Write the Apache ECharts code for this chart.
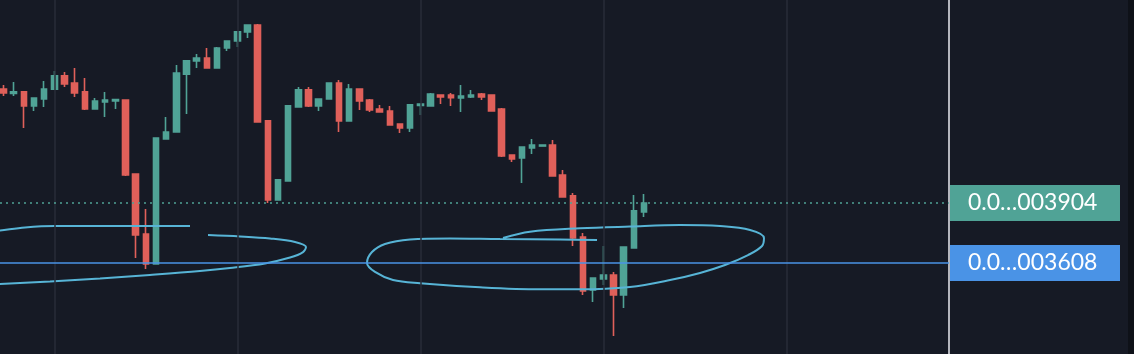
<!DOCTYPE html>
<html><head><meta charset="utf-8">
<script src="https://cdn.jsdelivr.net/npm/echarts@6/dist/echarts.min.js"></script>
<style>html,body{margin:0;padding:0;background:#161a25;}#c{width:1134px;height:354px;}</style>
</head><body><div id="c"></div>
<script>
// candles: [open, close, low, high] (price units: last digits of 0.0…00xxxx)
const candles = [
 [4466,4447,4432,4486],[4444,4452,4432,4501],[4452,4383,4274,4452],[4383,4422,4358,4422],
 [4417,4466,4378,4506],[4466,4531,4466,4555],[4531,4491,4476,4550],[4496,4447,4427,4570],
 [4452,4368,4363,4521],[4368,4407,4368,4422],[4402,4412,4328,4452],[4407,4414,4368,4417],
 [4412,4042,4037,4412],[4047,3746,3633,4047],[3751,3603,3578,3874],[3603,4225,3603,4225],
 [4220,4254,4220,4328],[4254,4545,4254,4585],[4540,4605,4343,4605],[4605,4619,4570,4639],
 [4619,4570,4570,4669],[4570,4669,4570,4674],[4669,4703,4654,4703],[4703,4748,4674,4748],
 [4748,4782,4718,4782],[4782,4304,4304,4787],[4309,3919,3904,4309],[3919,4018,3919,4018],
 [4013,4383,4013,4383],[4378,4462,4378,4476],[4462,4383,4378,4476],[4383,4417,4358,4417],
 [4417,4496,4417,4496],[4496,4309,4254,4511],[4309,4466,4309,4491],[4466,4407,4363,4466],
 [4412,4363,4353,4417],[4368,4353,4353,4388],[4358,4289,4289,4383],[4294,4274,4249,4294],
 [4274,4388,4254,4388],[4385,4392,4338,4392],[4383,4442,4383,4447],[4437,4427,4392,4437],
 [4437,4424,4383,4447],[4422,4432,4353,4486],[4427,4437,4422,4462],[4442,4427,4412,4447],
 [4437,4358,4358,4437],[4368,4136,4131,4373],[4141,4121,4106,4141],[4126,4180,4003,4180],
 [4175,4190,4146,4220],[4185,4190,4185,4190],[4190,4037,4037,4215],[4042,3934,3934,4067],
 [3939,3731,3692,3953],[3736,3470,3450,3756],[3475,3534,3416,3534],[3529,3549,3500,3692],
 [3549,3450,3248,3564],[3450,3687,3386,3687],[3682,3865,3682,3943],[3860,3904,3835,3948]
];
const lastPrice = 3904;
const linePrice = 3608;
const gridLineIdx = [5, 23, 41, 59, 77];
// hand-drawn ellipses: [candle index, price]
const ellipseA = [
 [20.11,3746],[23.26,3739],[26.21,3729],[28.67,3712],[29.75,3687],[29.46,3662],[28.18,3635],
 [25.72,3606],[22.27,3583],[19.32,3568],[14.40,3549],[9.49,3532],[4.57,3517],[-0.35,3504],
 [-4.28,3495],[-6.25,3574],[-4.28,3746],[-0.35,3768],[2.11,3783],[5.06,3790],[11.45,3790],[18.34,3790]
];
const ellipseB = [
 [49.13,3731],[51.78,3762],[56.70,3779],[61.62,3788],[66.54,3795],[70.47,3790],[73.43,3771],
 [74.80,3731],[74.61,3692],[73.23,3647],[70.97,3598],[68.51,3559],[65.56,3524],[61.62,3490],
 [56.70,3478],[52.77,3478],[46.87,3488],[40.96,3508],[38.31,3524],[36.54,3564],[35.75,3608],
 [36.24,3662],[37.52,3702],[39.98,3724],[43.92,3729],[48.84,3726],[54.74,3724],[58.38,3721]
];

const UP = '#50a396', DOWN = '#e0605a', BLUE = '#4a93e6', ELL = '#57b4d6';
const fmt = v => '0.0\u2026' + String(Math.round(v)).padStart(6, '0');
const chart = echarts.init(document.getElementById('c'), null, {renderer: 'canvas'});
const labelBase = {show: true, position: 'end', distance: 1, color: '#ffffff', fontSize: 23,
  fontFamily: 'Lato', width: 135, height: 36, lineHeight: 36, padding: [0, 17, 0, 18], align: 'left',
  formatter: p => fmt(p.value)};
chart.setOption({
  backgroundColor: '#161a25',
  animation: false,
  grid: {left: 0, top: 0, bottom: 0, right: 185},
  xAxis: {type: 'value', min: -0.35, max: 93, show: false, splitLine: {show: false}},
  yAxis: {type: 'value', min: 3159, max: 4905.5, position: 'right',
    axisLine: {show: true, onZero: false, lineStyle: {color: '#b4b6bd', width: 2}},
    axisTick: {show: false}, axisLabel: {show: false}, splitLine: {show: false}},
  graphic: [{type: 'rect', right: 0, top: 0, shape: {width: 6, height: 354}, style: {fill: '#0e1118'}, z: 100}],
  series: [
    {type: 'line', data: [], z: 1, silent: true,
     markLine: {silent: true, symbol: 'none', label: {show: false},
       lineStyle: {color: '#292d38', width: 1.5, type: 'solid'},
       data: gridLineIdx.map(v => ({xAxis: v}))}},
    {type: 'candlestick', z: 3, barWidth: 6,
     encode: {x: 0, y: [1, 2, 3, 4]},
     data: candles.map((c, i) => [i, c[0], c[1], c[2], c[3]]),
     itemStyle: {color: UP, color0: DOWN, borderColor: UP, borderColor0: DOWN, borderWidth: 1.6}},
    {type: 'line', z: 4, smooth: 0.35, symbol: 'none', data: ellipseA, lineStyle: {color: ELL, width: 2}},
    {type: 'line', z: 4, smooth: 0.35, symbol: 'none', data: ellipseB, lineStyle: {color: ELL, width: 2}},
    {type: 'line', data: [], z: 5, silent: true,
     markLine: {silent: true, symbol: 'none',
       data: [
         {yAxis: lastPrice, lineStyle: {color: UP, width: 1.5, type: [2, 4]},
          label: Object.assign({}, labelBase, {backgroundColor: UP})},
         {yAxis: linePrice, lineStyle: {color: BLUE, width: 1.5, type: 'solid'},
          label: Object.assign({}, labelBase, {backgroundColor: BLUE})}
       ]}}
  ]
});
</script></body></html>
